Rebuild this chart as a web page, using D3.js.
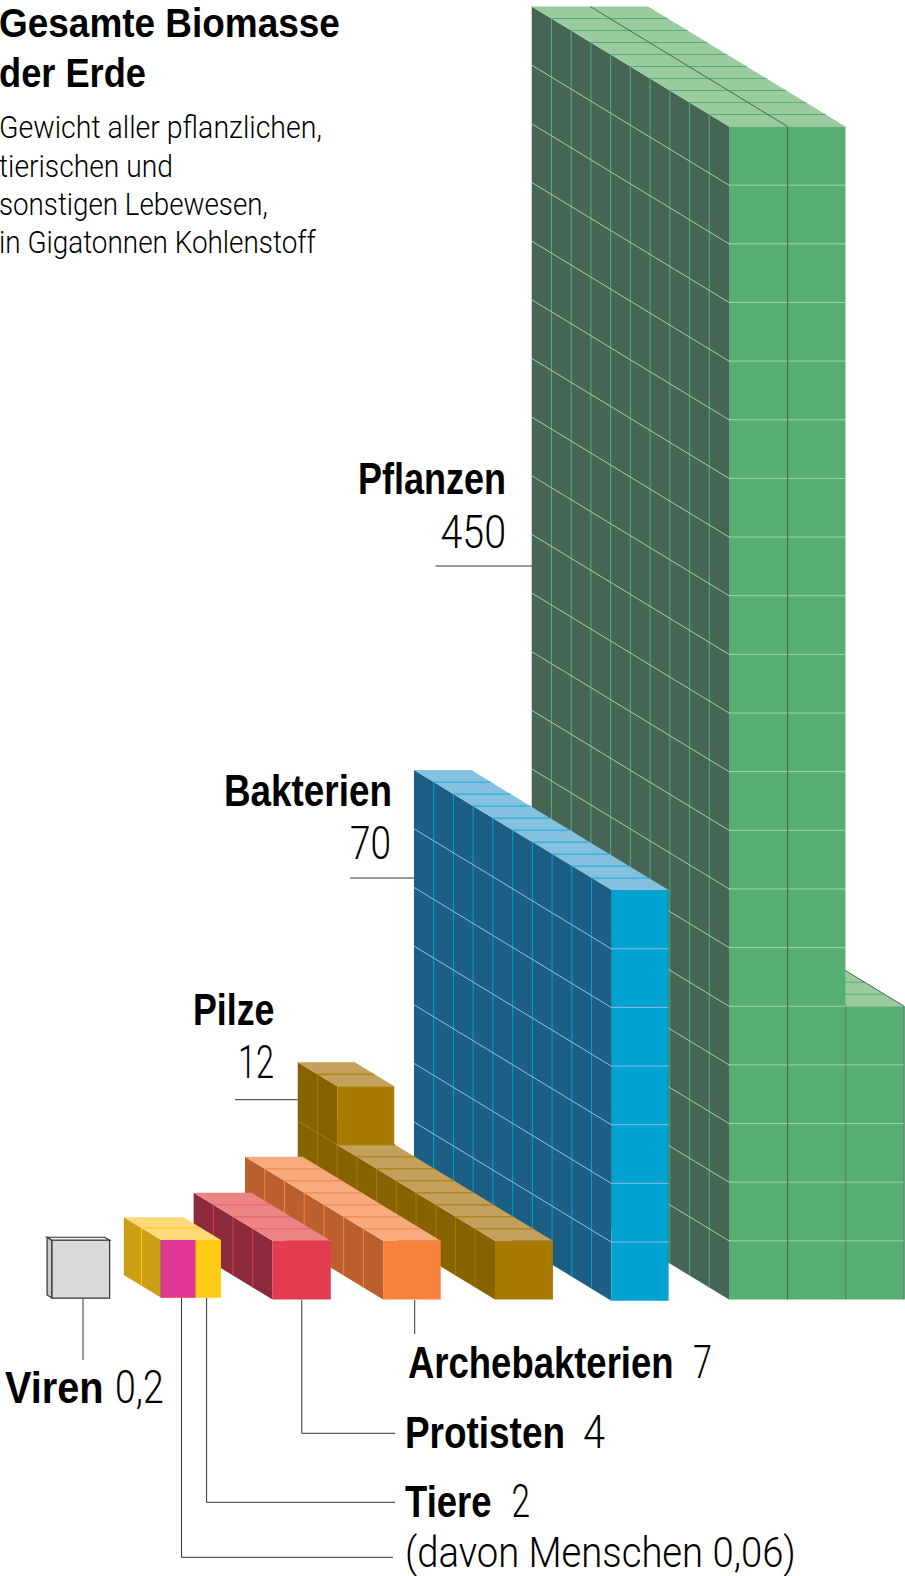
<!DOCTYPE html>
<html>
<head>
<meta charset="utf-8">
<script src="https://cdn.jsdelivr.net/npm/d3@7/dist/d3.min.js"></script>
<style>
  body { margin: 0; background: #fff; }
  svg { display: block; }
</style>
</head>
<body>
<div id="chart"></div>
<script>
// Gigatonnen Kohlenstoff, ein Wuerfel = 1 Gt
const categories = ['Pflanzen', 'Bakterien', 'Pilze', 'Archebakterien', 'Protisten', 'Tiere', 'Viren']
const values = [450, 70, 12, 7, 4, 2, 0.2]
const valueLabels = ['450', '70', '12', '7', '4', '2', '0,2']
const humanLabel = '(davon Menschen 0,06)'
const titleLines = ['Gesamte Biomasse', 'der Erde']
const subtitleLines = ['Gewicht aller pflanzlichen,', 'tierischen und', 'sonstigen Lebewesen,', 'in Gigatonnen Kohlenstoff']

const width = 905
const height = 1576
const fontBold = '"Liberation Sans Narrow", "Liberation Sans", sans-serif'
const fontLight = 'Roboto, "Liberation Sans", sans-serif'

const colors = {
  Pflanzen: { front: '#56AF72', side: '#466555', top: '#9ACB9F', frontH: '#A3D3AB', frontV: '#466656', sideV: '#57AE72', sideH: '#A3D3AB', topH: '#57AE72', topD: '#466656' },
  Bakterien: { front: '#00A3CF', side: '#1D5F84', top: '#86C0DF', frontH: '#86C0DF', sideV: '#00A3CF', sideH: '#8CC8E4', topH: '#14AAD6' },
  Pilze: { front: '#A87A00', side: '#876200', top: '#C3A05C', frontH: '#C3A05C', sideV: '#A87A00', sideH: '#C3A05C', topH: '#A87A00' },
  Archebakterien: { front: '#F8823C', side: '#BB5F2F', top: '#F7AA7D', frontH: '#F7AA7D', sideV: '#F8823C', sideH: '#F7AA7D', topH: '#F8823C' },
  Protisten: { front: '#E33B50', side: '#8C2A3C', top: '#EE8383', frontH: '#EE8383', sideV: '#E33B50', sideH: '#EE8383', topH: '#E8606F' },
  Tiere: { front: '#FFCB14', side: '#CC9E14', top: '#FFD979', frontH: '#FFD979', sideV: '#FFCB14', sideH: '#FFD979', topH: '#FFCB14' },
  Viren: { front: '#D9D9D9', side: '#C9C9C9', top: '#EFEFEF' }
}

// Lage der Bloecke in Wuerfeln (x, base, z) und ihre Masse (w, h, d)
const boxes = [
  { cat: 'Pflanzen', x: 13.567, w: 1, h: 5, d: 10, base: 0, z: 0, edges: true },
  { cat: 'Pflanzen', x: 11.573, w: 1.99, h: 20, d: 10, base: 0, z: 0 },
  { cat: 'Bakterien', x: 9.56, w: 0.98, h: 7, d: 10, base: -0.02, z: 0 },
  { cat: 'Pilze', x: 7.573, w: 0.99, h: 1, d: 10, base: 0, z: 0 },
  { cat: 'Pilze', x: 7.573, w: 0.975, h: 1, d: 2, base: 1, z: 8 },
  { cat: 'Archebakterien', x: 5.66, w: 0.985, h: 1, d: 7, base: 0, z: 0 },
  { cat: 'Protisten', x: 3.77, w: 0.995, h: 1, d: 4, base: 0, z: 0 },
  { cat: 'Tiere', x: 1.868, w: 1.02, h: 0.985, d: 1.9, base: 0.03, z: 0 },
  { cat: 'Viren', x: 0, w: 0.985, h: 0.985, d: 0.25, base: 0.025, z: 0, outline: true }
]
const humanShare = 0.585

const xCell = d3.scaleLinear().domain([0, 1]).range([52, 110.5])
const yCell = d3.scaleLinear().domain([0, 1]).range([1299.5, 1240.85])
const xDepth = d3.scaleLinear().domain([0, 1]).range([0, -19.73])
const yDepth = d3.scaleLinear().domain([0, 1]).range([0, -12])

const pt = (x, h, z) => [xCell(x) + xDepth(z), yCell(h) + yDepth(z)]
const line = d3.line()

const svg = d3.select('#chart')
  .append('svg')
  .attr('width', width)
  .attr('height', height)
  .attr('viewBox', '0 0 ' + width + ' ' + height)

const drawBox = b => {
  const c = colors[b.cat]
  const g = svg.append('g').attr('class', 'box')
  const x0 = b.x
  const x1 = b.x + b.w
  const h0 = b.base
  const h1 = b.base + b.h
  const z0 = b.z
  const z1 = b.z + b.d
  const stroke = b.outline ? '#333' : 'none'

  const faces = [
    { fill: c.side, pts: [pt(x0, h0, z0), pt(x0, h1, z0), pt(x0, h1, z1), pt(x0, h0, z1)] },
    { fill: c.top, pts: [pt(x0, h1, z0), pt(x1, h1, z0), pt(x1, h1, z1), pt(x0, h1, z1)] },
    { fill: c.front, pts: [pt(x0, h0, z0), pt(x1, h0, z0), pt(x1, h1, z0), pt(x0, h1, z0)] }
  ]
  g.selectAll('path.face')
    .data(faces)
    .enter()
    .append('path')
    .attr('class', 'face')
    .attr('d', d => line(d.pts) + 'Z')
    .attr('fill', d => d.fill)
    .attr('stroke', stroke)
    .attr('stroke-width', 1.2)
  if (b.outline) return

  const segs = []
  // Tiefe: senkrecht auf der Seite, waagerecht auf dem Deckel
  for (let i = 1; i < b.d; i++) {
    segs.push({ stroke: c.sideV, pts: [pt(x0, h0, z0 + i), pt(x0, h1, z0 + i)] })
    segs.push({ stroke: c.topH, pts: [pt(x0, h1, z0 + i), pt(x1, h1, z0 + i)] })
  }
  // Hoehe
  for (let i = 1; i < b.h; i++) {
    segs.push({ stroke: c.sideH, pts: [pt(x0, h0 + i, z0), pt(x0, h0 + i, z1)] })
    segs.push({ stroke: c.frontH, pts: [pt(x0, h0 + i, z0), pt(x1, h0 + i, z0)] })
  }
  // Breite
  for (let i = 1; i < b.w; i++) {
    segs.push({ stroke: c.frontV, pts: [pt(x0 + i, h0, z0), pt(x0 + i, h1, z0)] })
    segs.push({ stroke: c.topD, pts: [pt(x0 + i, h1, z0), pt(x0 + i, h1, z1)] })
  }
  if (b.edges) {
    segs.push({ stroke: c.frontV, pts: [pt(x0, h0, z0), pt(x0, h1, z0)] })
    segs.push({ stroke: c.frontV, pts: [pt(x1, h0, z0), pt(x1, h1, z0)] })
    segs.push({ stroke: c.frontV, pts: [pt(x1, h1, z0), pt(x1, h1, z1)] })
  }
  g.selectAll('path.grid')
    .data(segs)
    .enter()
    .append('path')
    .attr('class', 'grid')
    .attr('d', d => line(d.pts))
    .attr('stroke', d => d.stroke)
    .attr('stroke-width', 1)
    .attr('fill', 'none')
}

boxes.forEach(drawBox)

// Anteil Menschen an der Vorderseite der Tiere
const tiere = boxes.find(b => b.cat === 'Tiere')
svg.append('path')
  .attr('d', line([
    pt(tiere.x, tiere.base, 0),
    pt(tiere.x + humanShare, tiere.base, 0),
    pt(tiere.x + humanShare, tiere.base + tiere.h, 0),
    pt(tiere.x, tiere.base + tiere.h, 0)
  ]) + 'Z')
  .attr('fill', '#E23795')
svg.append('path')
  .attr('d', line([pt(tiere.x, tiere.base, 0), pt(tiere.x, tiere.base + tiere.h, 0)]))
  .attr('stroke', '#A5527F')
  .attr('stroke-width', 1.5)

// Fuehrungslinien
const leaders = [
  [[435.5, 566], [532, 566]],
  [[350, 878], [414, 878]],
  [[235, 1099.7], [297.7, 1099.7]],
  [[83, 1299], [83, 1360]],
  [[414.7, 1300], [414.7, 1334]],
  [[301.8, 1300], [301.8, 1433.3], [395, 1433.3]],
  [[206.6, 1298], [206.6, 1502.3], [395, 1502.3]],
  [[181.5, 1298], [181.5, 1557.3], [393, 1557.3]]
]
svg.selectAll('path.leader')
  .data(leaders)
  .enter()
  .append('path')
  .attr('class', 'leader')
  .attr('d', d => line(d))
  .attr('fill', 'none')
  .attr('stroke', '#333')
  .attr('stroke-width', 1)

const texts = [
  { t: titleLines[0], x: -1, y: 37, w: 341, s: 40, b: true },
  { t: titleLines[1], x: -1, y: 87, w: 147, s: 40, b: true },
  { t: subtitleLines[0], x: -1, y: 138, w: 323, s: 32 },
  { t: subtitleLines[1], x: -1, y: 176.5, w: 174, s: 32 },
  { t: subtitleLines[2], x: -1, y: 215, w: 269, s: 32 },
  { t: subtitleLines[3], x: -1, y: 253, w: 317, s: 32 },
  { t: categories[0], x: 358, y: 494, w: 148, s: 44, b: true },
  { t: valueLabels[0], x: 440.5, y: 547.5, w: 65.5, s: 46 },
  { t: categories[1], x: 224, y: 806, w: 168, s: 44, b: true },
  { t: valueLabels[1], x: 350, y: 859, w: 41, s: 46 },
  { t: categories[2], x: 193, y: 1025, w: 81.5, s: 44, b: true },
  { t: valueLabels[2], x: 238, y: 1078, w: 36, s: 46 },
  { t: categories[3], x: 408, y: 1378, w: 265.6, s: 44, b: true },
  { t: valueLabels[3], x: 693, y: 1378, w: 19, s: 46 },
  { t: categories[4], x: 405, y: 1447.5, w: 160, s: 44, b: true },
  { t: valueLabels[4], x: 583, y: 1447.5, w: 22, s: 46 },
  { t: categories[5], x: 405, y: 1516.7, w: 86.6, s: 44, b: true },
  { t: valueLabels[5], x: 511.5, y: 1516.7, w: 18.5, s: 46 },
  { t: humanLabel, x: 405, y: 1566.7, w: 391, s: 42 },
  { t: categories[6], x: 5, y: 1403, w: 98.5, s: 44, b: true },
  { t: valueLabels[6], x: 115, y: 1403, w: 48.7, s: 46 }
]
// Schrift ist nur per Skalierung so schmal wie im Original
svg.selectAll('text')
  .data(texts)
  .enter()
  .append('text')
  .attr('font-family', d => d.b ? fontBold : fontLight)
  .attr('font-weight', d => d.b ? 700 : 300)
  .attr('font-size', d => d.s)
  .attr('fill', '#000')
  .text(d => d.t)
  .attr('transform', function (d) {
    const k = d.w / this.getComputedTextLength()
    return 'translate(' + d.x + ',' + d.y + ') scale(' + k + ',1)'
  })
</script>
</body>
</html>
